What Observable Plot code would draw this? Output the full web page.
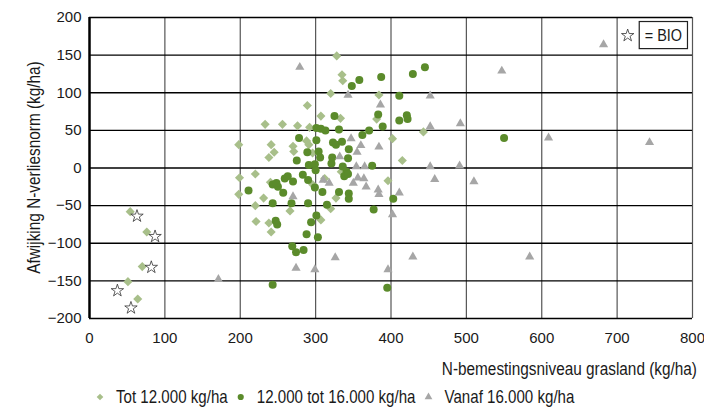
<!DOCTYPE html>
<html><head><meta charset="utf-8">
<script src="https://cdn.jsdelivr.net/npm/d3@7"></script>
<script src="https://cdn.jsdelivr.net/npm/@observablehq/plot@0.6"></script>
<style>
body{margin:0;background:#fff;font-family:"Liberation Sans",Arial,sans-serif;color:#1a1a1a;}
#wrap{position:relative;width:704px;height:409px;overflow:hidden;}
#legend{position:absolute;left:0;top:385px;}
</style></head><body>
<div id="wrap"><div id="chart"></div><svg id="legend" width="704" height="24"></svg></div>
<script>
// Tick values
const xTicks = [0, 100, 200, 300, 400, 500, 600, 700, 800];
const yTicks = [-200, -150, -100, -50, 0, 50, 100, 150, 200];

// Series names and colours
const seriesNames = ["Tot 12.000 kg/ha", "12.000 tot 16.000 kg/ha", "Vanaf 16.000 kg/ha"];
const seriesColors = ["#a8bf8a", "#5b8b2b", "#a6a6a6"];

// Tot 12.000 kg/ha (diamonds): [N-bemesting, afwijking]
const tot12 = [
  [54,-58],[76,-85],[70,-131],[51,-151],[64,-174],
  [328,149],[335,124],[336,116],[320,99],[384,97],[289,83],[307,69],[333,66],[381,65],
  [233,58],[256,58],[276,56],[292,54],[443,48],[402,39],[288,36],[291,31],[198,31],[241,31],
  [245,21],[238,14],[270,29],[271,22],[296,20],[415,10],
  [199,-13],[220,-8],[240,-19],[198,-35],[231,-40],[220,-50],[221,-71],[238,-73],[241,-85],
  [266,-57],[296,-22],[334,-5],[312,-14],[327,-40],[320,-54],[307,-69],[396,-17]
];

// 12.000 tot 16.000 kg/ha (circles)
const tot16 = [
  [445,134],[429,125],[387,121],[358,117],[348,109],[411,96],
  [325,69],[383,71],[411,63],[421,70],[422,65],
  [389,55],[371,50],[362,44],
  [301,53],[307,52],[313,50],[331,51],
  [278,40],[301,37],[323,34],[327,31],[335,35],
  [344,25],[343,13],[289,21],[304,22],[306,14],
  [275,10],[321,6],[291,4],[299,5],[322,14],[375,3],
  [341,-5],[338,-11],[343,-8],[300,-3],[336,2],
  [243,-22],[250,-25],[259,-14],[263,-11],[248,-20],[270,-18],[257,-33],
  [283,-9],[290,-16],
  [299,-26],[309,-32],[331,-32],[344,-34],[344,-41],
  [211,-30],[243,-47],[268,-47],[290,-47],[315,-49],
  [377,-55],[403,-41],
  [301,-63],[294,-72],[247,-70],[249,-75],
  [288,-88],[303,-92],
  [269,-104],[274,-112],[284,-109],
  [243,-155],[395,-159],[550,40]
];

// Vanaf 16.000 kg/ha (triangles)
const vanaf16 = [
  [279,134],[343,97],[386,84],[452,96],[547,129],[682,164],
  [492,59],[452,55],[347,39],[360,30],[384,28],[355,21],[332,15],
  [354,2],[365,2],[356,-13],[364,-14],[350,-20],[367,-25],[383,-29],[384,-35],
  [318,-20],[310,-16],[270,-38],[411,-33],[402,-62],
  [452,2],[491,3],[458,-15],[510,-18],[609,40],[743,34],
  [326,-119],[429,-118],[584,-118],[274,-133],[299,-135],[396,-135],[171,-148]
];

// BIO farms (stars)
const bio = [[63,-64],[87,-91],[82,-132],[37,-163],[55,-186]];

// "= BIO" key inside the plot
const bioKeyStar = [[714,176]];
const bioKeyBox = [{x1:730, x2:794, y1:158, y2:194, label:"= BIO"}];

// Axis titles
const xTitle = "N-bemestingsniveau grasland (kg/ha)";
const yTitle = "Afwijking N-verliesnorm (kg/ha)";

const font = '"Liberation Sans",Arial,sans-serif';

const plot = Plot.plot({
  width: 704, height: 385,
  marginLeft: 89, marginRight: 12, marginTop: 17, marginBottom: 67,
  style: {fontFamily: font, fontSize: "15px", color: "#1a1a1a", background: "white", overflow: "visible"},
  x: {domain: [0, 800], ticks: xTicks, tickSize: 0, tickPadding: 14, label: null},
  y: {domain: [-200, 200], ticks: yTicks, tickSize: 0, tickPadding: 8, label: null},
  marks: [
    Plot.ruleX(xTicks.slice(1), {stroke: "#555", strokeWidth: 1.2}),
    Plot.ruleY(yTicks, {stroke: "#000", strokeWidth: 1.4}),
    Plot.ruleX([0], {stroke: "#000", strokeWidth: 2.5}),
    Plot.dot(tot12, {x: d => d[0], y: d => d[1], symbol: "diamond2", r: 4.1, fill: seriesColors[0], stroke: "none"}),
    Plot.dot(tot16, {x: d => d[0], y: d => d[1], symbol: "circle", r: 4, fill: seriesColors[1], stroke: "none"}),
    Plot.dot(vanaf16, {x: d => d[0], y: d => d[1], symbol: "triangle", r: 3.4, fill: seriesColors[2], stroke: "none"}),
    Plot.dot(bio, {x: d => d[0], y: d => d[1], symbol: "star", r: 3.9, fill: "white", stroke: "#333", strokeWidth: 0.8}),
    Plot.dot(bioKeyStar, {x: d => d[0], y: d => d[1], symbol: "star", r: 3.9, fill: "white", stroke: "#333", strokeWidth: 0.8}),
    Plot.rect(bioKeyBox, {x1: "x1", x2: "x2", y1: "y1", y2: "y2", fill: "white", stroke: "#222", strokeWidth: 1.2})
  ]
});
document.getElementById("chart").appendChild(plot);

// Condensed-looking text: horizontally scaled group (scale(k,1) along the text direction)
function addText(parent, str, size, k, opts) {
  const g = parent.append("g").attr("transform", `${opts.transform} scale(${k},1)`);
  const t = g.append("text")
    .attr("x", 0).attr("y", 0).attr("dy", "0.35em")
    .style("font-family", font).style("font-size", size + "px")
    .attr("fill", "#1a1a1a").attr("text-anchor", opts.anchor || "start")
    .text(str);
  return t.node().getComputedTextLength() * k;
}

const svgSel = d3.select(plot);
const sx = plot.scale("x"), sy = plot.scale("y");
const frameLeft = sx.apply(0), frameRight = sx.apply(800);
const frameTop = sy.apply(200), frameBottom = sy.apply(-200);

// axis titles
addText(svgSel, xTitle, 18.5, 0.83, {transform: `translate(${frameRight + 5},${frameBottom + 51})`, anchor: "end"});
addText(svgSel, yTitle, 18.5, 0.83, {transform: `translate(${frameLeft - 55},${(frameTop + frameBottom) / 2}) rotate(-90)`, anchor: "middle"});
// "= BIO" key label
bioKeyBox.forEach(d => {
  addText(svgSel, d.label, 17, 0.85, {transform: `translate(${(sx.apply(d.x1) + sx.apply(d.x2)) / 2},${(sy.apply(d.y1) + sy.apply(d.y2)) / 2})`, anchor: "middle"});
});

// Legend below the plot (SVG, laid out from measured text widths)
const lg = d3.select("#legend");
const symbolPaths = [
  d3.symbol(d3.symbolDiamond2, 28)(),
  d3.symbol(d3.symbolCircle, 30)(),
  d3.symbol(d3.symbolTriangle, 26)()
];
let cx = 100;
seriesNames.forEach((name, i) => {
  lg.append("path").attr("d", symbolPaths[i]).attr("transform", `translate(${cx},12)`).attr("fill", seriesColors[i]);
  const W = addText(lg, name, 18, 0.84, {transform: `translate(${cx + 16},12)`});
  cx = cx + 16 + W + 13;
});
</script>
</body></html>
